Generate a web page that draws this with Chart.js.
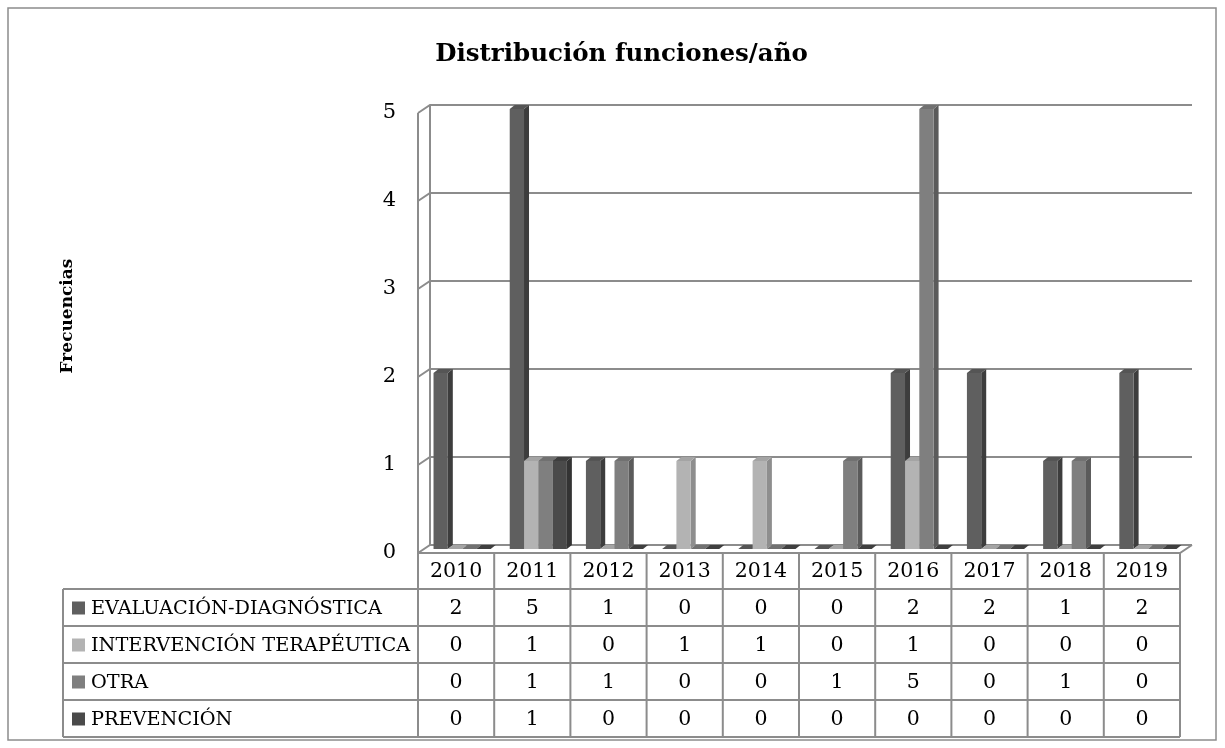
<!DOCTYPE html>
<html>
<head>
<meta charset="utf-8">
<script src="https://cdn.jsdelivr.net/npm/chart.js@4"></script>
<style>
html, body { margin: 0; padding: 0; background: #fff; }
</style>
</head>
<body>
<canvas id="myChart" width="1225" height="748"></canvas>
<script>
var years = ['2010', '2011', '2012', '2013', '2014', '2015', '2016', '2017', '2018', '2019'];
var evaluacion = [2, 5, 1, 0, 0, 0, 2, 2, 1, 2];
var intervencion = [0, 1, 0, 1, 1, 0, 1, 0, 0, 0];
var otra = [0, 1, 1, 0, 0, 1, 5, 0, 1, 0];
var prevencion = [0, 1, 0, 0, 0, 0, 0, 0, 0, 0];
var seriesNames = ['EVALUACIÓN-DIAGNÓSTICA', 'INTERVENCIÓN TERAPÉUTICA', 'OTRA', 'PREVENCIÓN'];
var yTicks = [0, 1, 2, 3, 4, 5];

var frontColors = ['#5f5f5f', '#b3b3b3', '#7f7f7f', '#4a4a4a'];
var sideColors = ['#3d3d3d', '#8e8e8e', '#5b5b5b', '#333333'];
var topColors = ['#555555', '#a4a4a4', '#717171', '#3f3f3f'];
var lineGray = '#8c8c8c';
var serif = "'DejaVu Serif', 'Liberation Serif', serif";

// 3D walls, floor, bar faces and the data table underneath
var fake3d = {
    id: 'fake3d',
    beforeDatasetsDraw: function(chart) {
        var c = chart.ctx, ca = chart.chartArea, y = chart.scales.y;
        var d = 6, dy = 4;
        c.save();
        c.strokeStyle = lineGray;
        c.lineWidth = 2;
        c.beginPath();
        // left wall edges
        c.moveTo(ca.left - d, y.getPixelForValue(5) + dy);
        c.lineTo(ca.left - d, y.getPixelForValue(0) + dy);
        c.moveTo(ca.left + d, y.getPixelForValue(5) - dy);
        c.lineTo(ca.left + d, y.getPixelForValue(0) - dy);
        yTicks.forEach(function(v) {
            var py = y.getPixelForValue(v);
            c.moveTo(ca.left - d, py + dy);
            c.lineTo(ca.left + d, py - dy);
            c.lineTo(ca.right + d, py - dy);
        });
        // floor
        var p0 = y.getPixelForValue(0);
        c.moveTo(ca.left - d, p0 + dy);
        c.lineTo(ca.right - d, p0 + dy);
        c.lineTo(ca.right + d, p0 - dy);
        c.stroke();
        c.restore();

        // side and top faces of the bars
        var bd = 5, bdy = 4;
        chart.data.datasets.forEach(function(ds, i) {
            var meta = chart.getDatasetMeta(i);
            meta.data.forEach(function(bar) {
                var p = bar.getProps(['x', 'y', 'base', 'width'], true);
                var l = p.x - p.width / 2, r = p.x + p.width / 2;
                c.fillStyle = sideColors[i];
                c.beginPath();
                c.moveTo(r, p.y);
                c.lineTo(r + bd, p.y - bdy);
                c.lineTo(r + bd, p.base - bdy);
                c.lineTo(r, p.base);
                c.closePath();
                c.fill();
                c.fillStyle = topColors[i];
                c.beginPath();
                c.moveTo(l, p.y);
                c.lineTo(l + bd, p.y - bdy);
                c.lineTo(r + bd, p.y - bdy);
                c.lineTo(r, p.y);
                c.closePath();
                c.fill();
            });
        });
    },
    afterDraw: function(chart) {
        var c = chart.ctx, ca = chart.chartArea, y = chart.scales.y;
        var n = years.length;
        var colW = (ca.right - ca.left) / n;
        var fx = ca.left - 6;
        var floorY = y.getPixelForValue(0) + 4;
        var headH = 36, rowH = 37, tableLeft = 63;
        var rowTop = floorY + headH;
        var bottom = rowTop + rowH * seriesNames.length;
        var rows = [evaluacion, intervencion, otra, prevencion];

        c.save();
        c.strokeStyle = lineGray;
        c.lineWidth = 2;
        c.beginPath();
        for (var k = 0; k <= seriesNames.length; k++) {
            c.moveTo(tableLeft, rowTop + k * rowH);
            c.lineTo(fx + n * colW, rowTop + k * rowH);
        }
        for (var i = 0; i <= n; i++) {
            c.moveTo(fx + i * colW, floorY);
            c.lineTo(fx + i * colW, bottom);
        }
        c.moveTo(tableLeft, rowTop);
        c.lineTo(tableLeft, bottom);
        c.stroke();

        c.fillStyle = '#000';
        c.font = '20.5px ' + serif;
        c.textBaseline = 'middle';
        c.textAlign = 'center';
        years.forEach(function(yr, i) {
            c.fillText(yr, fx + (i + 0.5) * colW, floorY + headH / 2 + 1);
        });
        rows.forEach(function(vals, r) {
            var cy = rowTop + (r + 0.5) * rowH + 1;
            c.fillStyle = frontColors[r];
            c.fillRect(72, cy - 7, 13, 13);
            c.fillStyle = '#000';
            c.textAlign = 'left';
            c.font = '19.3px ' + serif;
            c.fillText(seriesNames[r], 91, cy);
            c.textAlign = 'center';
            c.font = '20.5px ' + serif;
            vals.forEach(function(v, i) {
                c.fillText(String(v), fx + (i + 0.5) * colW, cy);
            });
        });

        // axis title
        c.save();
        c.translate(68, 316);
        c.rotate(-Math.PI / 2);
        c.font = 'bold 17px ' + serif;
        c.textAlign = 'center';
        c.fillText('Frecuencias', 0, 0);
        c.restore();

        // outer frame
        c.strokeStyle = lineGray;
        c.lineWidth = 1.5;
        c.strokeRect(8, 8, 1208, 732);
        c.restore();
    }
};

var ctx = document.getElementById('myChart').getContext('2d');
var myChart = new Chart(ctx, {
    type: 'bar',
    data: {
        labels: years,
        datasets: [
            { label: seriesNames[0], data: evaluacion, backgroundColor: frontColors[0] },
            { label: seriesNames[1], data: intervencion, backgroundColor: frontColors[1] },
            { label: seriesNames[2], data: otra, backgroundColor: frontColors[2] },
            { label: seriesNames[3], data: prevencion, backgroundColor: frontColors[3] }
        ]
    },
    options: {
        responsive: false,
        animation: false,
        datasets: {
            bar: { categoryPercentage: 0.75, barPercentage: 1, borderWidth: 0 }
        },
        layout: {
            padding: { left: 57, right: 39, top: 0, bottom: 199 }
        },
        plugins: {
            legend: { display: false },
            tooltip: { enabled: false },
            title: {
                display: true,
                text: 'Distribución funciones/año',
                color: '#000',
                font: { family: serif, size: 24.5, weight: 'bold' },
                padding: { top: 40, bottom: 39.6 }
            }
        },
        scales: {
            x: { display: false },
            y: {
                min: 0,
                max: 5,
                afterFit: function(scale) { scale.width = 367; },
                grid: { display: false, drawTicks: false },
                border: { display: false },
                ticks: {
                    stepSize: 1,
                    padding: 28,
                    labelOffset: 4,
                    color: '#000',
                    font: { family: serif, size: 21 }
                }
            }
        }
    },
    plugins: [fake3d]
});
</script>
</body>
</html>
